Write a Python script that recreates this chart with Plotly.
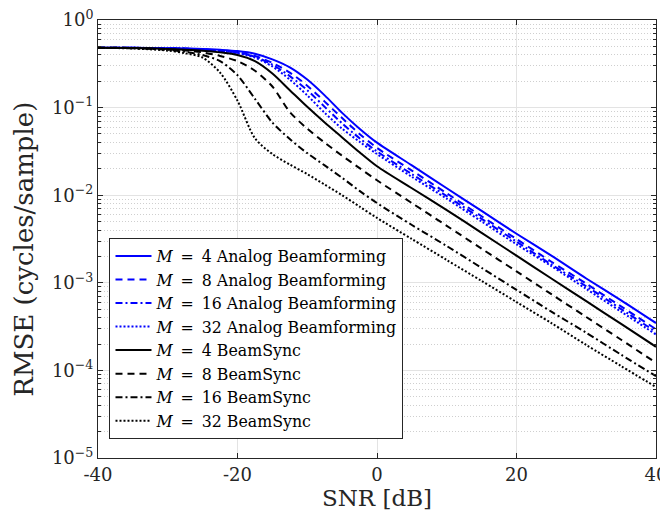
import plotly.graph_objects as go

snr_db = [-40, -35, -30, -27.5, -25, -22.5, -20, -17.5, -15, -12.5, -10, -7.5, -5, -2.5,
          0, 5, 10, 15, 20, 25, 30, 35, 40]

rmse_analog_m4 = [0.481, 0.481, 0.476, 0.473, 0.468, 0.457, 0.442, 0.412, 0.355, 0.288, 0.209, 0.138, 0.0871, 0.0575,
                  0.0398, 0.0219, 0.0120, 0.00661, 0.00363, 0.00204, 0.00112, 0.000631, 0.000347]
rmse_analog_m8 = [0.481, 0.481, 0.476, 0.472, 0.462, 0.447, 0.427, 0.389, 0.324, 0.251, 0.178, 0.117, 0.0759, 0.0501,
                  0.0347, 0.0191, 0.0105, 0.00575, 0.00316, 0.00174, 0.000977, 0.000537, 0.000295]
rmse_analog_m16 = [0.481, 0.481, 0.476, 0.471, 0.461, 0.445, 0.422, 0.380, 0.309, 0.229, 0.158, 0.102, 0.0661, 0.0447,
                   0.0316, 0.0174, 0.00977, 0.00537, 0.00295, 0.00162, 0.000912, 0.000501, 0.000275]
rmse_analog_m32 = [0.481, 0.481, 0.476, 0.470, 0.459, 0.442, 0.417, 0.372, 0.295, 0.209, 0.138, 0.0871, 0.0575, 0.0407,
                   0.0295, 0.0162, 0.00912, 0.00501, 0.00275, 0.00155, 0.000851, 0.000468, 0.000257]
rmse_beamsync_m4 = [0.481, 0.479, 0.468, 0.459, 0.447, 0.427, 0.398, 0.339, 0.245, 0.158, 0.102, 0.0676, 0.0457, 0.0309,
                    0.0214, 0.0120, 0.00676, 0.00372, 0.00204, 0.00112, 0.000617, 0.000339, 0.000186]
rmse_beamsync_m8 = [0.481, 0.479, 0.462, 0.449, 0.427, 0.389, 0.339, 0.263, 0.174, 0.0891, 0.0575, 0.0398, 0.0282, 0.0204,
                    0.0148, 0.00813, 0.00447, 0.00245, 0.00135, 0.000741, 0.000407, 0.000224, 0.000122]
rmse_beamsync_m16 = [0.481, 0.476, 0.457, 0.432, 0.398, 0.339, 0.234, 0.126, 0.0676, 0.0437, 0.0302, 0.0219, 0.0158, 0.0112,
                     0.00813, 0.00457, 0.00263, 0.00148, 0.000832, 0.000468, 0.000269, 0.000151, 0.0000859]
rmse_beamsync_m32 = [0.481, 0.473, 0.447, 0.417, 0.372, 0.251, 0.120, 0.0447, 0.0295, 0.0224, 0.0174, 0.0132, 0.0100, 0.00741,
                     0.00550, 0.00316, 0.00182, 0.00105, 0.000603, 0.000347, 0.000195, 0.000112, 0.0000646]

series_names = [
    "<i>M</i>\u2002=\u20024 Analog Beamforming",
    "<i>M</i>\u2002=\u20028 Analog Beamforming",
    "<i>M</i>\u2002=\u200216 Analog Beamforming",
    "<i>M</i>\u2002=\u200232 Analog Beamforming",
    "<i>M</i>\u2002=\u20024 BeamSync",
    "<i>M</i>\u2002=\u20028 BeamSync",
    "<i>M</i>\u2002=\u200216 BeamSync",
    "<i>M</i>\u2002=\u200232 BeamSync",
]
series_values = [rmse_analog_m4, rmse_analog_m8, rmse_analog_m16, rmse_analog_m32,
                 rmse_beamsync_m4, rmse_beamsync_m8, rmse_beamsync_m16, rmse_beamsync_m32]
series_colors = ["#0000ff"] * 4 + ["#000000"] * 4
series_dashes = ["solid", "7px,5px", "7px,3px,2px,3px", "2px,2px"] * 2

x_ticks = [-40, -20, 0, 20, 40]
x_tick_labels = ["-40", "-20", "0", "20", "40"]
y_ticks = [1e-5, 1e-4, 1e-3, 1e-2, 1e-1, 1]
y_tick_labels = ["10<sup>−5</sup>", "10<sup>−4</sup>", "10<sup>−3</sup>",
                 "10<sup>−2</sup>", "10<sup>−1</sup>", "10<sup>0</sup>"]

FONT = "DejaVu Serif, Liberation Serif, serif"
AX = "#262626"

fig = go.Figure()
for name, vals, col, dash in zip(series_names, series_values, series_colors, series_dashes):
    fig.add_trace(go.Scatter(
        x=snr_db, y=vals, mode="lines", name=name,
        line=dict(color=col, width=2, dash=dash, shape="spline", smoothing=0.8),
    ))

# the page body has an 8px margin, so the figure is drawn 8px in from the top-left corner
fig.update_layout(
    width=660, height=506,
    margin=dict(l=89.5, r=12, t=11.5, b=55.5, autoexpand=False),
    paper_bgcolor="white", plot_bgcolor="white",
    font=dict(family=FONT, color=AX, size=18),
    legend=dict(
        x=0.0206, y=0.043, xanchor="left", yanchor="bottom",
        bgcolor="white", bordercolor=AX, borderwidth=1,
        font=dict(family=FONT, size=15.8, color="#000000"),
        tracegroupgap=0, itemwidth=36,
    ),
    showlegend=True,
    annotations=[dict(
        text="RMSE (cycles/sample)", textangle=-90, xref="paper", yref="paper",
        x=-0.1316, y=0.477, xanchor="center", yanchor="middle", showarrow=False,
        font=dict(size=26, family=FONT, color=AX),
    )],
)

fig.update_xaxes(
    range=[-40, 40], tickmode="array", tickvals=x_ticks, ticktext=x_tick_labels,
    ticks="inside", ticklen=5, tickcolor=AX, showline=True, linecolor=AX, linewidth=1,
    mirror="ticks", showgrid=True, gridcolor="#e3e3e3", gridwidth=1, zeroline=False,
    ticklabeloverflow="allow",
    title=dict(text="SNR [dB]", font=dict(size=23, family=FONT, color=AX), standoff=6),
    tickfont=dict(size=18, family=FONT, color=AX),
)
fig.update_yaxes(
    type="log", range=[-5, 0], tickmode="array", tickvals=y_ticks, ticktext=y_tick_labels,
    ticks="inside", ticklen=5, tickcolor=AX, showline=True, linecolor=AX, linewidth=1,
    mirror="ticks", showgrid=True, gridcolor="#e3e3e3", gridwidth=1, zeroline=False,
    ticklabeloverflow="allow",
    minor=dict(dtick="D1", ticks="inside", ticklen=3, tickcolor=AX, showgrid=True,
               gridcolor="#cfcfcf", griddash="1px,2px", gridwidth=1),
    tickfont=dict(size=18, family=FONT, color=AX),
)

fig.write_html("out.html")
